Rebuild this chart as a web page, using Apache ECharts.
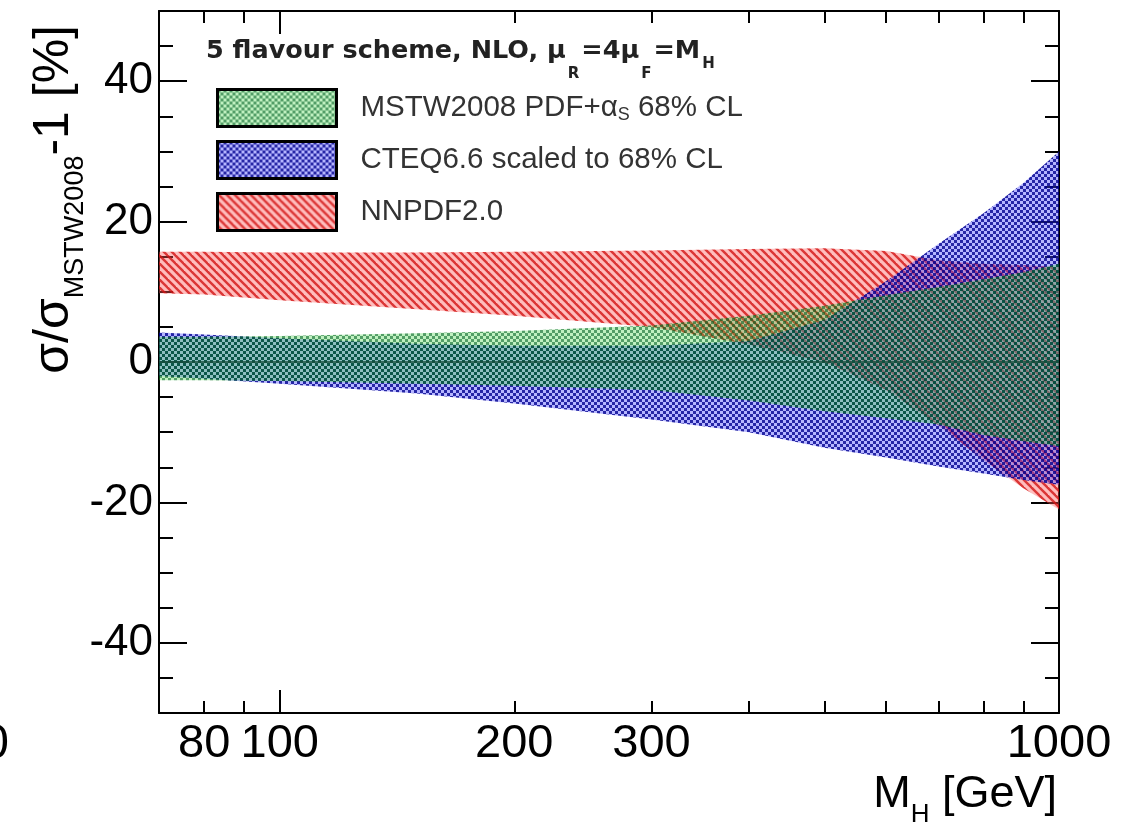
<!DOCTYPE html>
<html>
<head>
<meta charset="utf-8">
<script src="https://cdn.jsdelivr.net/npm/echarts@6/dist/echarts.min.js"></script>
<style>
  html, body { margin: 0; padding: 0; background: #ffffff; }
  #chart { width: 1132px; height: 829px; }
</style>
</head>
<body>
<div id="chart"></div>
<script>
// Higgs boson mass points [GeV]
const massPoints = [70, 80, 100, 150, 200, 300, 400, 500, 600, 700, 800, 900, 1000];

// PDF uncertainty bands, sigma / sigma(MSTW2008) - 1 in percent
const mstwUpper  = [3.6, 3.6, 3.7, 4.1, 4.4, 5.2, 6.6, 8.0, 9.5, 10.7, 11.8, 12.8, 14.0];
const mstwLower  = [-2.6, -2.6, -2.7, -3.1, -3.4, -4.0, -5.5, -7.0, -8.0, -8.9, -10.4, -11.3, -12.0];
const cteqUpper  = [4.2, 3.9, 3.4, 2.6, 2.3, 2.3, 3.0, 6.0, 11.5, 16.8, 21.2, 25.5, 30.0];
const cteqLower  = [-2.0, -2.4, -3.1, -4.5, -5.9, -8.2, -10.0, -12.2, -13.6, -14.9, -15.9, -16.8, -17.5];
const nnpdfUpper = [15.7, 15.7, 15.6, 15.6, 15.7, 15.9, 16.1, 16.2, 15.8, 14.5, 14.0, 13.8, 13.5];
const nnpdfLower = [9.8, 9.6, 8.8, 7.5, 6.6, 5.0, 2.5, 0.0, -4.0, -9.0, -14.0, -18.0, -21.0];
const mstwCentral = [0, 0, 0, 0, 0, 0, 0, 0, 0, 0, 0, 0, 0];

const seriesNames = ['MSTW2008 PDF+αS 68% CL', 'CTEQ6.6 scaled to 68% CL', 'NNPDF2.0'];

// axis ticks and labels
const xLabelValues = [80, 100, 200, 300, 1000];
const xMajorTicks  = [100, 1000];
const xMinorTicks  = [80, 90, 200, 300, 400, 500, 600, 700, 800, 900];
const yLabelValues = [-40, -20, 0, 20, 40];
const yMinorTicks  = [-45, -35, -30, -25, -15, -10, -5, 5, 10, 15, 25, 30, 35, 45];

const FONT = 'Liberation Sans, Arial, Helvetica, sans-serif';
const TITLE_FONT = 'DejaVu Sans, Liberation Sans, sans-serif';

// translucent hatch fills, so overlapping bands mix their colours
function checkerTile(light, dark) {
  const c = document.createElement('canvas');
  c.width = 6; c.height = 6;
  const g = c.getContext('2d');
  g.fillStyle = light; g.fillRect(0, 0, 6, 6);
  g.clearRect(0, 0, 3, 3); g.clearRect(3, 3, 3, 3);
  g.fillStyle = dark; g.fillRect(0, 0, 3, 3); g.fillRect(3, 3, 3, 3);
  return { image: c, repeat: 'repeat' };
}
function stripeTile(light, dark) {
  const c = document.createElement('canvas');
  c.width = 8; c.height = 8;
  const g = c.getContext('2d');
  g.fillStyle = light; g.fillRect(0, 0, 8, 8);
  g.strokeStyle = dark; g.lineWidth = 2.4;
  [-8, 0, 8].forEach(function (o) {
    g.beginPath(); g.moveTo(o - 1, -1); g.lineTo(o + 9, 9); g.stroke();
  });
  return { image: c, repeat: 'repeat' };
}

const greenFill = checkerTile('rgba(60,210,60,0.32)', 'rgba(0,110,30,0.68)');
const blueFill  = checkerTile('rgba(70,70,255,0.4)', 'rgba(0,0,150,0.85)');
const redFill   = stripeTile('rgba(255,90,90,0.4)', 'rgba(210,20,20,0.8)');

function bandSeries(name, upper, lower, fill) {
  return {
    type: 'custom',
    name: name,
    xAxisIndex: 0,
    yAxisIndex: 0,
    clip: true,
    silent: true,
    itemStyle: { color: fill },
    data: massPoints.map(function (m, i) { return [m, lower[i], upper[i]]; }),
    encode: { x: 0, y: [1, 2] },
    renderItem: function (params, api) {
      if (params.dataIndex !== 0) return null;
      const top = massPoints.map(function (m, i) { return api.coord([m, upper[i]]); });
      const bottom = massPoints.map(function (m, i) { return api.coord([m, lower[i]]); }).reverse();
      return {
        type: 'polygon',
        shape: { points: top.concat(bottom) },
        style: { fill: fill, stroke: null }
      };
    }
  };
}

function xAxisDef(position, ticks, len, showLine, labels) {
  return {
    type: 'log', logBase: 10, min: 70, max: 1000, position: position,
    axisLine: { show: showLine, onZero: false, lineStyle: { color: '#000', width: 2 } },
    axisTick: { show: true, inside: true, length: len, customValues: ticks,
                lineStyle: { color: '#000', width: 2 } },
    axisLabel: labels ? {
      show: true, customValues: labels, fontFamily: FONT, fontSize: 47, color: '#000', margin: 8,
      formatter: function (v) { return String(Math.round(v)); }
    } : { show: false },
    splitLine: { show: false },
    minorTick: { show: false }
  };
}
function yAxisDef(position, ticks, len, showLine, labels) {
  return {
    type: 'value', min: -50, max: 50, position: position,
    axisLine: { show: showLine, onZero: false, lineStyle: { color: '#000', width: 2 } },
    axisTick: { show: true, inside: true, length: len, customValues: ticks,
                lineStyle: { color: '#000', width: 2 } },
    axisLabel: labels ? {
      show: true, customValues: labels, fontFamily: FONT, fontSize: 44, color: '#000', margin: 6
    } : { show: false },
    splitLine: { show: false },
    minorTick: { show: false }
  };
}

const chart = echarts.init(document.getElementById('chart'), null, { renderer: 'canvas' });

chart.setOption({
  backgroundColor: '#ffffff',
  animation: false,
  grid: { left: 159, top: 11, width: 900, height: 702, containLabel: false, outerBoundsMode: 'none' },
  title: {
    left: 206, top: 20, padding: 0,
    text: '5 flavour scheme, NLO, μ{r|R}=4μ{r|F}=M{h|H}',
    textStyle: {
      fontFamily: TITLE_FONT, fontWeight: 'bold', fontSize: 25.5, color: '#222',
      rich: {
        r: { fontFamily: TITLE_FONT, fontWeight: 'bold', fontSize: 15, color: '#222', padding: [47, 2, 0, 2] },
        h: { fontFamily: TITLE_FONT, fontWeight: 'bold', fontSize: 15, color: '#222', padding: [27, 0, 0, 2] }
      }
    }
  },
  legend: {
    orient: 'vertical', left: 216, top: 88, padding: 0,
    itemWidth: 119, itemHeight: 37, itemGap: 12,
    icon: 'rect', selectedMode: false,
    data: seriesNames,
    itemStyle: { borderColor: '#000', borderWidth: 3 },
    formatter: function (n) { return n.replace('αS', 'α{s|S}'); },
    textStyle: {
      fontFamily: FONT, fontSize: 29.5, color: '#333', padding: [0, 0, 0, 19],
      rich: { s: { fontFamily: FONT, fontSize: 18, color: '#333', padding: [14, 0, 0, 0] } }
    }
  },
  xAxis: [
    xAxisDef('bottom', xMajorTicks, 23, true, xLabelValues),
    xAxisDef('bottom', xMinorTicks, 12, false, null),
    xAxisDef('top', xMajorTicks, 23, true, null),
    xAxisDef('top', xMinorTicks, 12, false, null)
  ],
  yAxis: [
    yAxisDef('left', yLabelValues, 28, true, yLabelValues),
    yAxisDef('left', yMinorTicks, 14, false, null),
    yAxisDef('right', yLabelValues, 28, true, null),
    yAxisDef('right', yMinorTicks, 14, false, null)
  ],
  series: [
    bandSeries(seriesNames[2], nnpdfUpper, nnpdfLower, redFill),
    bandSeries(seriesNames[1], cteqUpper, cteqLower, blueFill),
    bandSeries(seriesNames[0], mstwUpper, mstwLower, greenFill),
    {
      type: 'line', name: 'MSTW2008 central', xAxisIndex: 0, yAxisIndex: 0,
      data: massPoints.map(function (m, i) { return [m, mstwCentral[i]]; }),
      symbol: 'none', silent: true, z: 5,
      lineStyle: { color: '#174f3c', width: 1.5 }
    }
  ],
  graphic: [
    {
      type: 'text', x: 54, y: 25, rotation: Math.PI / 2,
      style: {
        text: 'σ/σ{s|MSTW2008}-1 [%]',
        fontFamily: FONT, fontSize: 50, fill: '#000',
        align: 'right', verticalAlign: 'middle', textAlign: 'right', textVerticalAlign: 'middle',
        rich: { s: { fontFamily: FONT, fontSize: 27, fill: '#000', padding: [44, 0, 0, 0] } }
      }
    },
    {
      type: 'text', x: 1057, y: 795,
      style: {
        text: 'M{s|H} [GeV]',
        fontFamily: FONT, fontSize: 45, fill: '#000',
        align: 'right', verticalAlign: 'middle', textAlign: 'right', textVerticalAlign: 'middle',
        rich: { s: { fontFamily: FONT, fontSize: 26, fill: '#000', padding: [40, 0, 0, 0] } }
      }
    },
    {
      type: 'text', x: 9, y: 745,
      style: {
        text: '0', fontFamily: FONT, fontSize: 48, fill: '#000',
        align: 'right', verticalAlign: 'middle', textAlign: 'right', textVerticalAlign: 'middle'
      }
    }
  ]
});
</script>
</body>
</html>
